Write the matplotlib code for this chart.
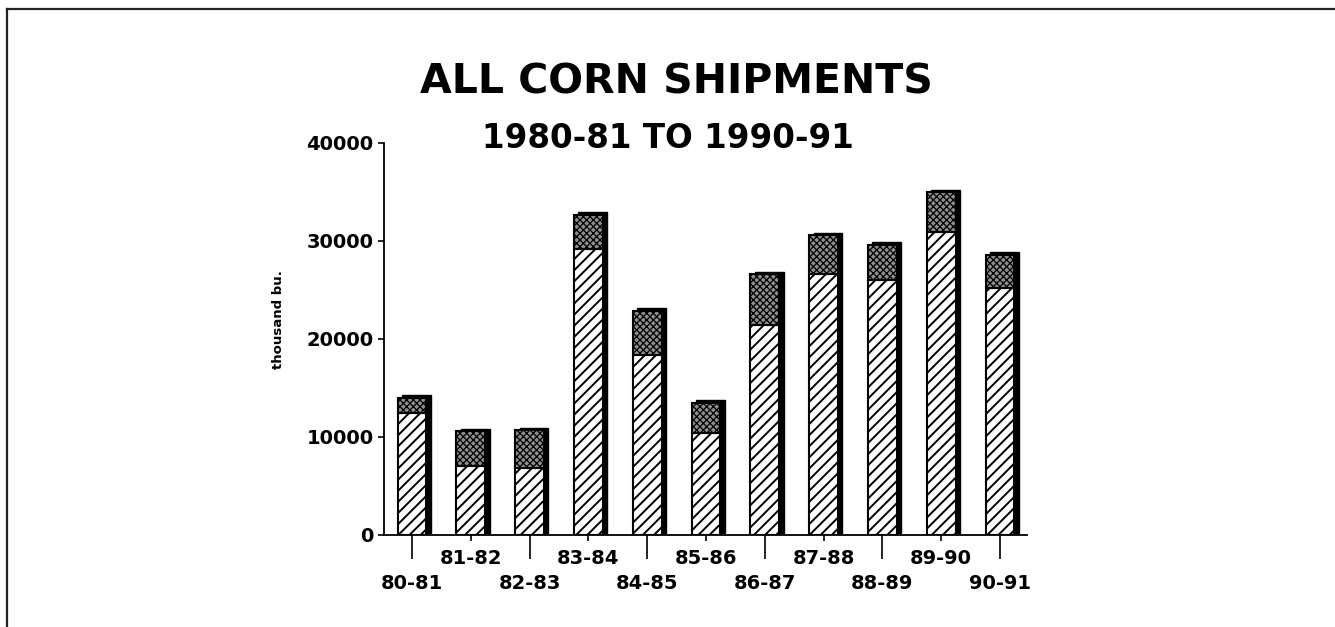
import matplotlib
matplotlib.use("Agg")
import matplotlib.pyplot as plt
import matplotlib.transforms as mtransforms
from matplotlib.lines import Line2D
import numpy as np

# ---- data (thousand bushels) ----
seasons = ["80-81", "81-82", "82-83", "83-84", "84-85", "85-86",
           "86-87", "87-88", "88-89", "89-90", "90-91"]
lower_part = [12400, 7000, 6800, 29200, 18400, 10400, 21400, 26600, 26000, 30900, 25200]
upper_part = [1600, 3600, 3900, 3500, 4500, 3100, 5200, 4000, 3600, 4100, 3400]
totals = [a + b for a, b in zip(lower_part, upper_part)]
yticks = [0, 10000, 20000, 30000, 40000]

title = "ALL CORN SHIPMENTS"
subtitle = "1980-81 TO 1990-91"
ylabel = "thousand bu."

W, H = 1335, 627
fig = plt.figure(figsize=(W / 100, H / 100), dpi=100)
fig.patch.set_facecolor("white")

FONT = "DejaVu Sans"

ax = fig.add_axes([384 / W, (H - 535) / H, (1027 - 384) / W, (535 - 143) / H])
x = np.arange(len(seasons))
bw = 0.49

# drop shadow (offset a few pixels right/up)
shadow_tr = mtransforms.offset_copy(ax.transData, fig=fig, x=4.5, y=2.5, units="dots")
ax.bar(x, totals, width=bw, color="black", edgecolor="black", linewidth=1.0,
       transform=shadow_tr, zorder=1)

with plt.rc_context({"hatch.linewidth": 1.4}):
    ax.bar(x, lower_part, width=bw, facecolor="white", edgecolor="black",
           hatch="///", linewidth=1.5, zorder=2)
with plt.rc_context({"hatch.linewidth": 0.9}):
    ax.bar(x, upper_part, bottom=lower_part, width=bw, facecolor="#8e8e8e",
           edgecolor="black", hatch="xxxxx", linewidth=1.5, zorder=2)

ax.set_xlim(-0.476, 10.46)
ax.set_ylim(0, 40000)

for s in ["top", "right"]:
    ax.spines[s].set_visible(False)
for s in ["left", "bottom"]:
    ax.spines[s].set_linewidth(1.3)
    ax.spines[s].set_color("black")

ax.set_yticks(yticks)
ax.set_yticklabels([str(v) for v in yticks])
ax.tick_params(axis="y", direction="out", length=4, width=1.2, pad=3.5,
               labelsize=14)
for lab in ax.get_yticklabels():
    lab.set_fontfamily(FONT)
    lab.set_fontweight("bold")

# x ticks: alternating long/short ticks with staggered labels
even = x[::2]
odd = x[1::2]
ax.set_xticks(even)
ax.set_xticklabels(seasons[::2])
ax.set_xticks(odd, minor=True)
ax.set_xticklabels(seasons[1::2], minor=True)
ax.tick_params(axis="x", which="major", direction="out", length=17.5, width=1.2,
               pad=10.5, labelsize=14)
ax.tick_params(axis="x", which="minor", direction="out", length=4.5, width=1.2,
               pad=5.8, labelsize=14)
for lab in ax.get_xticklabels(which="both"):
    lab.set_fontfamily(FONT)
    lab.set_fontweight("bold")

fig.text(279 / W, 1 - 320 / H, ylabel, rotation=90, ha="center", va="center",
         fontsize=9.5, fontweight="bold", family=FONT)

fig.text(676 / W, 1 - 93 / H, title, ha="center", va="baseline",
         fontsize=29.5, fontweight="bold", family=FONT)
fig.text(668 / W, 1 - 148 / H, subtitle, ha="center", va="baseline",
         fontsize=23.5, fontweight="bold", family=FONT)

# page border (top and left edges)
fig.add_artist(Line2D([7 / W, 7 / W], [0, 1 - 9 / H], transform=fig.transFigure,
                      color="#222222", linewidth=1.6))
fig.add_artist(Line2D([7 / W, 1], [1 - 9 / H, 1 - 9 / H], transform=fig.transFigure,
                      color="#222222", linewidth=1.6))

fig.savefig("out.png", dpi=100, facecolor="white")
